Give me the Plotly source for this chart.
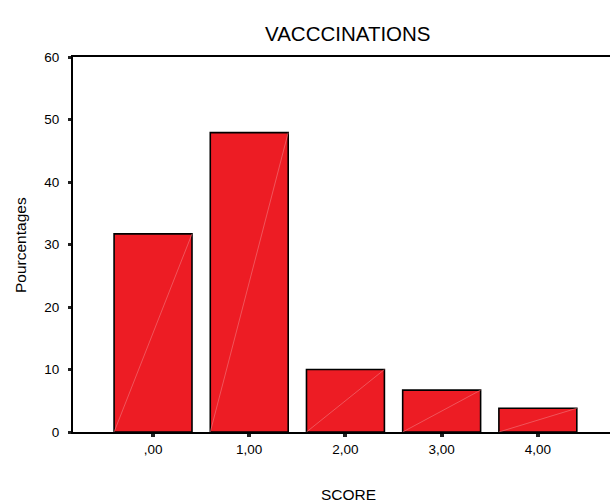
import plotly.graph_objects as go

categories = [",00", "1,00", "2,00", "3,00", "4,00"]
scores = [0, 1, 2, 3, 4]
percentages = [31.7, 47.9, 10.0, 6.7, 3.8]

BAR_W = 0.81
FONT = "Liberation Sans, Arial, sans-serif"

fig = go.Figure()
fig.add_trace(go.Bar(
    x=scores, y=percentages, width=BAR_W,
    marker=dict(color="#ED1C24", line=dict(color="black", width=1.6)),
    hoverinfo="x+y", showlegend=False,
))
# faint diagonal rendering lines inside each bar (derived from data)
for s, v in zip(scores, percentages):
    fig.add_trace(go.Scatter(
        x=[s - BAR_W / 2, s + BAR_W / 2], y=[0, v], mode="lines",
        line=dict(color="#F27A7F", width=0.6), hoverinfo="skip", showlegend=False,
    ))

fig.update_layout(
    width=610, height=504,
    margin=dict(l=73, r=0, t=57, b=72),
    paper_bgcolor="white", plot_bgcolor="white",
    font=dict(family=FONT, color="black"),
    xaxis=dict(
        range=[-0.832, 4.75], tickvals=scores, ticktext=categories,
        showline=True, linecolor="black", linewidth=1.6, mirror=True,
        ticks="outside", ticklen=3, tickwidth=4, tickcolor="#222",
        showgrid=False, zeroline=False, tickfont=dict(size=13.5),
        ticklabelstandoff=1,
    ),
    yaxis=dict(
        range=[0, 60], tickvals=[0, 10, 20, 30, 40, 50, 60],
        showline=True, linecolor="black", linewidth=2.2,
        ticks="outside", ticklen=3, tickwidth=3, tickcolor="#222",
        showgrid=False, zeroline=False, tickfont=dict(size=13.5),
        ticklabelstandoff=6,
    ),
    annotations=[
        dict(text="VACCCINATIONS", xref="paper", yref="paper",
             x=(347.6 - 73) / 537, y=1, yshift=57 - 33, yanchor="middle",
             showarrow=False, font=dict(size=20.5, family=FONT)),
        dict(text="SCORE", xref="paper", yref="paper",
             x=(348 - 73) / 537, y=0, yshift=-(494 - 432), yanchor="middle",
             showarrow=False, font=dict(size=15.5, family=FONT)),
        dict(text="Pourcentages", xref="paper", yref="paper",
             x=0, xshift=20 - 73, xanchor="center", y=(432 - 245) / 375,
             yanchor="middle", textangle=-90,
             showarrow=False, font=dict(size=15.5, family=FONT)),
    ],
)

fig.write_html(
    "out.html",
    config={"displayModeBar": False},
    post_script="document.body.style.margin='0';document.body.style.overflow='hidden';",
)
